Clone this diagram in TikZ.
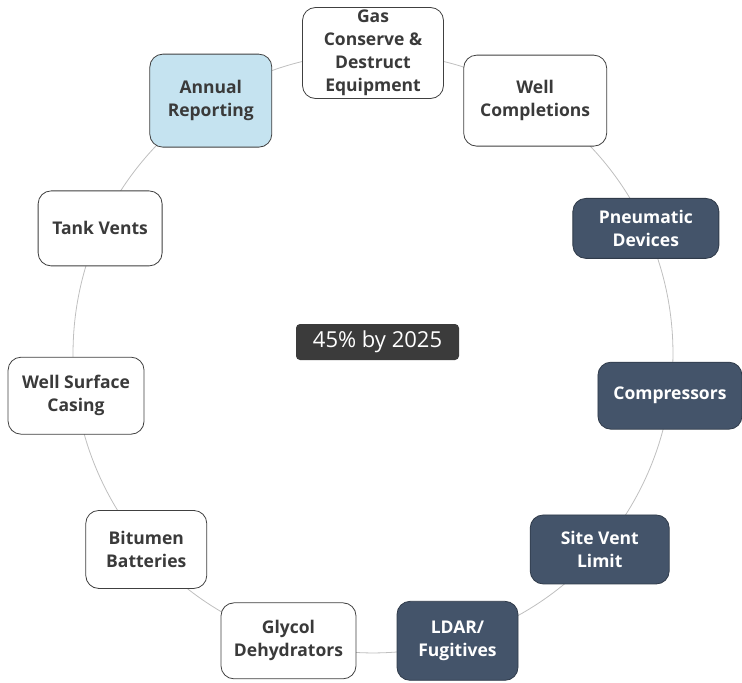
\documentclass[tikz,border=0pt]{standalone}
\usepackage{fontspec}
\setmainfont{Open Sans}
\usetikzlibrary{backgrounds}
\definecolor{ringgray}{HTML}{BFBFBF}
\definecolor{textgray}{HTML}{3A3A3A}
\definecolor{edgegray}{HTML}{404040}
\definecolor{darkblue}{HTML}{44546A}
\definecolor{lightblue}{HTML}{C5E3F0}
\definecolor{centerfill}{HTML}{3B3B3B}
\begin{document}
\begin{tikzpicture}[x=1pt,y=1pt,
  box/.style={draw=edgegray, line width=0.8pt, rounded corners=13pt, align=center, inner sep=0pt,
    font=\bfseries\fontsize{17.5}{23}\selectfont},
  wbox/.style={box, fill=white, text=textgray},
  dbox/.style={box, fill=darkblue, draw=darkblue!70!black, text=white},
  lbox/.style={box, fill=lightblue, text=textgray},
  ring/.style={draw=ringgray, line width=0.8pt},
  centerbox/.style={fill=centerfill, text=white, rounded corners=4pt, inner sep=0pt,
    font=\fontsize{22}{26}\selectfont}]
\useasboundingbox (0,0) rectangle (742,-683);
\coordinate (c) at (373,-353);
\node[wbox, minimum width=141pt, minimum height=91pt] (n1) at ([shift={(90:300)}]c) {Gas\\Conserve \&\\Destruct\\Equipment};
\node[wbox, minimum width=143pt, minimum height=91pt] (n2) at ([shift={(57.2727:300)}]c) {Well\\Completions};
\node[dbox, minimum width=146pt, minimum height=60pt] (n3) at ([shift={(24.5455:300)}]c) {Pneumatic\\Devices};
\node[dbox, minimum width=144pt, minimum height=67pt] (n4) at ([shift={(-8.1818:300)}]c) {Compressors};
\node[dbox, minimum width=139pt, minimum height=69pt] (n5) at ([shift={(-40.9091:300)}]c) {Site Vent\\Limit};
\node[dbox, minimum width=121pt, minimum height=79pt] (n6) at ([shift={(-73.6364:300)}]c) {LDAR/\\Fugitives};
\node[wbox, minimum width=135pt, minimum height=76pt] (n7) at ([shift={(-106.3636:300)}]c) {Glycol\\Dehydrators};
\node[wbox, minimum width=121pt, minimum height=78pt] (n8) at ([shift={(-139.0909:300)}]c) {Bitumen\\Batteries};
\node[wbox, minimum width=136pt, minimum height=77pt] (n9) at ([shift={(-171.8182:300)}]c) {Well Surface\\Casing};
\node[wbox, minimum width=124pt, minimum height=75pt] (n10) at ([shift={(155.4545:300)}]c) {Tank Vents};
\node[lbox, minimum width=122pt, minimum height=93pt] (n11) at ([shift={(122.7273:300)}]c) {Annual\\Reporting};
\node[centerbox, minimum width=163pt, minimum height=36pt] (goal) at (377.5,-342) {45\% by 2025};
\begin{scope}[on background layer]
\foreach \i/\j in {1/2,2/3,3/4,4/5,5/6,6/7,7/8,8/9,9/10,10/11,11/1}
  \draw[ring] (n\i.center) to[bend left=16.3636, looseness=0.869] (n\j.center);
\end{scope}
\end{tikzpicture}
\end{document}
